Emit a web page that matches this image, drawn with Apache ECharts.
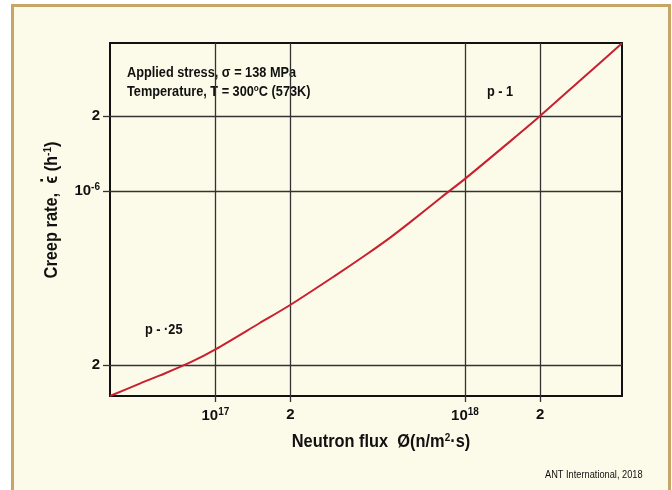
<!DOCTYPE html>
<html>
<head>
<meta charset="utf-8">
<script src="https://cdn.jsdelivr.net/npm/echarts@6/dist/echarts.min.js"></script>
<style>
  html, body { margin: 0; padding: 0; background: #ffffff; }
  #chart { width: 672px; height: 490px; }
</style>
</head>
<body>
<div id="chart"></div>
<script>
// Neutron flux (n/m2.s) and the creep rate (1/h) along the curve
const fluxValues = [3.78e16, 5e16, 6e16, 8e16, 1e17, 1.5e17, 2e17, 3e17, 4e17, 5e17, 6e17, 8e17, 1e18, 1.5e18, 2e18, 3e18, 4.26e18];
const creepRates = [1.50e-7, 1.686e-7, 1.815e-7, 2.056e-7, 2.31e-7, 2.94e-7, 3.49e-7, 4.55e-7, 5.53e-7, 6.48e-7, 7.46e-7, 9.39e-7, 1.118e-6, 1.567e-6, 2.0e-6, 2.87e-6, 3.92e-6];

// Axis ranges and tick positions
const xRange = [3.78e16, 4.26e18];
const yRange = [1.50e-7, 3.93e-6];
const xTickValues = [1e17, 2e17, 1e18, 2e18];
const yTickValues = [2e-7, 1e-6, 2e-6];

const FONT = '"Liberation Sans", Arial, sans-serif';
const INK = '#111111';
const NARROW = 0.91;   // horizontal squeeze for the condensed lettering

// "10" with a superscript exponent for whole powers, the plain mantissa otherwise
function powerLabel(v) {
  const e = Math.floor(Math.log10(v) + 1e-9);
  const m = Math.round(v / Math.pow(10, e));
  return m === 1 ? '{n|10}{sup|' + e + '}' : '{n|' + m + '}';
}

const labelRich = {
  n: { fontFamily: FONT, fontWeight: 'bold', fontSize: 15, color: INK },
  sup: { fontFamily: FONT, fontWeight: 'bold', fontSize: 10, color: INK, verticalAlign: 'top', padding: [0, 0, 8, 0] }
};

// width of a string in a given canvas font
const measureCtx = document.createElement('canvas').getContext('2d');
function textWidth(str, font) {
  measureCtx.font = font;
  return measureCtx.measureText(str).width;
}

// y-axis title pieces; the dot over the epsilon is placed from their widths
const titleFont = 'bold 18px ' + FONT;
const supFont = 'bold 11px ' + FONT;
const yTitleParts = ['Creep rate,  ', 'ϵ', ' (h', '-1', ')'];
const yTitleCenter = [52, 210];
const wBefore = textWidth(yTitleParts[0], titleFont);
const wEps = textWidth(yTitleParts[1], titleFont);
const wTotal = wBefore + wEps + textWidth(yTitleParts[2], titleFont) +
               textWidth(yTitleParts[3], supFont) + textWidth(yTitleParts[4], titleFont);
const epsLocalX = -wTotal / 2 + wBefore + wEps / 2;
const dotPos = [yTitleCenter[0] - 9, yTitleCenter[1] - epsLocalX * NARROW];

function label(text, x, y, font, extra) {
  return Object.assign({
    type: 'text', x: x, y: y, scaleX: NARROW,
    style: { text: text, font: font, fill: INK, verticalAlign: 'middle' }
  }, extra || {});
}

const chart = echarts.init(document.getElementById('chart'), null, { renderer: 'canvas' });

chart.setOption({
  backgroundColor: '#ffffff',
  animation: false,
  grid: {
    left: 110, top: 43, width: 512, height: 353,
    show: true, borderColor: INK, borderWidth: 2, backgroundColor: 'transparent'
  },
  xAxis: {
    type: 'log',
    min: xRange[0], max: xRange[1],
    axisLine: { show: false },
    axisTick: { show: true, inside: false, length: 6, customValues: xTickValues, lineStyle: { color: '#333', width: 1.3 } },
    axisLabel: { customValues: xTickValues, margin: 11, formatter: powerLabel, rich: labelRich },
    splitLine: { show: true, lineStyle: { color: '#333', width: 1.3 } },
    minorTick: { show: false }, minorSplitLine: { show: false }
  },
  yAxis: {
    type: 'log',
    min: yRange[0], max: yRange[1],
    axisLine: { show: false },
    axisTick: { show: true, inside: false, length: 7, customValues: yTickValues, lineStyle: { color: '#333', width: 1.3 } },
    axisLabel: { customValues: yTickValues, margin: 10, formatter: powerLabel, rich: labelRich },
    splitLine: { show: true, lineStyle: { color: '#333', width: 1.3 } },
    minorTick: { show: false }, minorSplitLine: { show: false }
  },
  series: [{
    type: 'line',
    data: fluxValues.map((f, i) => [f, creepRates[i]]),
    smooth: 0.3,
    showSymbol: false,
    lineStyle: { color: '#c8202e', width: 2 },
    z: 5
  }],
  graphic: [
    // page panel behind the chart
    { type: 'rect', z: -10, silent: true,
      shape: { x: 12.5, y: 5.5, width: 657, height: 500 },
      style: { fill: '#fcfbe9', stroke: '#c6a567', lineWidth: 3 } },
    label('Applied stress, σ = 138 MPa', 127, 73, 'bold 14px ' + FONT),
    { type: 'text', x: 127, y: 92, scaleX: NARROW,
      style: { text: '{t|Temperature, T = 300}{s|o}{t|C (573K)}', verticalAlign: 'middle',
        rich: { t: { font: 'bold 14px ' + FONT, fill: INK },
                s: { font: 'bold 9px ' + FONT, fill: INK, verticalAlign: 'top', padding: [0, 0, 7, 0] } } } },
    label('p - 1', 487, 92, 'bold 14px ' + FONT),
    label('p - ·25', 145, 330, 'bold 14px ' + FONT),
    { type: 'text', x: 381, y: 442, scaleX: NARROW,
      style: { text: '{t|Neutron flux  Ø(n/m}{s|2}{t|·s)}', align: 'center', verticalAlign: 'middle',
        rich: { t: { font: titleFont, fill: INK },
                s: { font: supFont, fill: INK, verticalAlign: 'top', padding: [0, 0, 9, 0] } } } },
    { type: 'text', x: yTitleCenter[0], y: yTitleCenter[1], rotation: Math.PI / 2, scaleX: NARROW,
      style: { text: '{t|' + yTitleParts[0] + yTitleParts[1] + yTitleParts[2] + '}{s|' + yTitleParts[3] + '}{t|' + yTitleParts[4] + '}',
        align: 'center', verticalAlign: 'middle',
        rich: { t: { font: titleFont, fill: INK },
                s: { font: supFont, fill: INK, verticalAlign: 'top', padding: [0, 0, 9, 0] } } } },
    { type: 'text', x: dotPos[0], y: dotPos[1], rotation: Math.PI / 2,
      style: { text: '·', font: titleFont, fill: INK, align: 'center', verticalAlign: 'middle' } },
    label('ANT International, 2018', 545, 475, '11px ' + FONT, { scaleX: 0.84 })
  ]
});
</script>
</body>
</html>
